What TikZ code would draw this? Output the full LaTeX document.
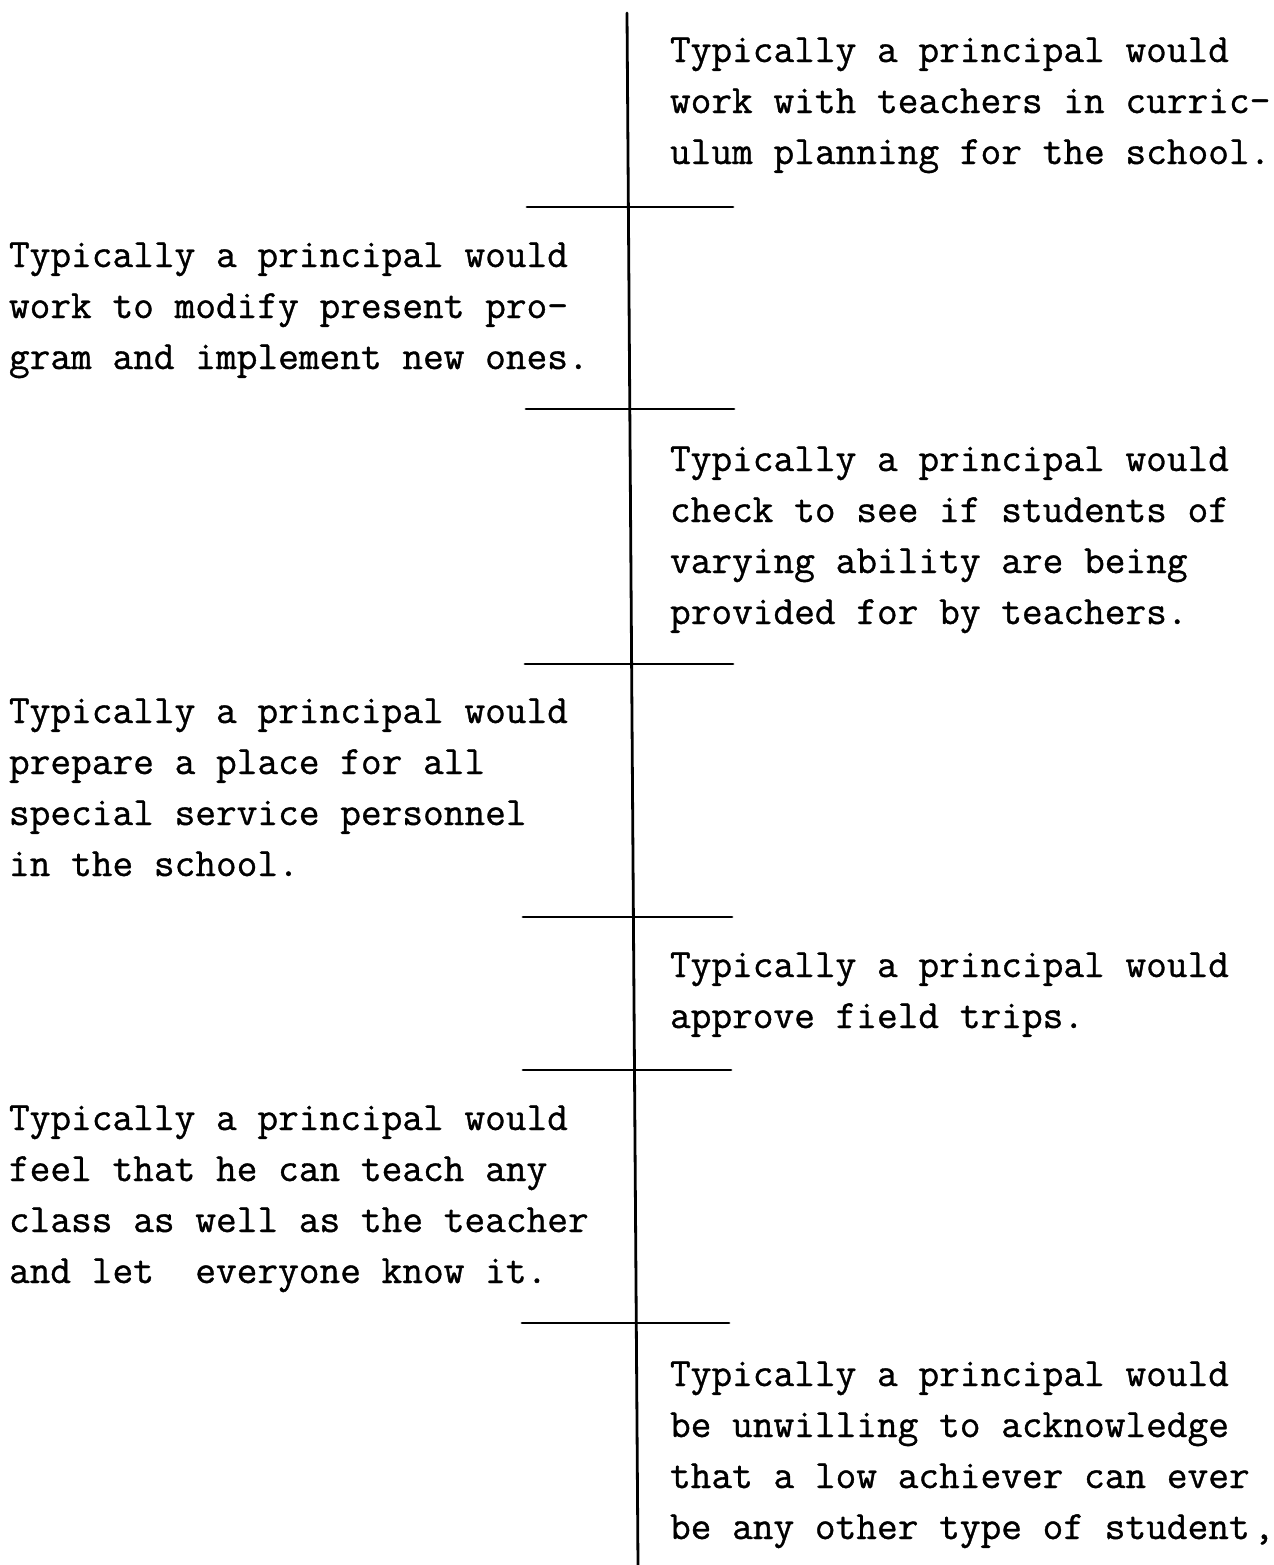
\documentclass[tikz,border=0pt]{standalone}
\usepackage{fontspec}
% a typewriter face with slightly heavier strokes
\newfontfamily\typewriter{Latin Modern Mono}[FakeBold=0.9]
% stacked lines of a typed entry, baseline on the first line
\newcommand\typedlines[1]{\begin{tabular}[t]{@{}l@{}}#1\end{tabular}}
\begin{document}
\begin{tikzpicture}[x=0.5pt,y=-0.5pt,
  rule/.style={line width=1.4pt, line cap=round},
  entry/.style={anchor=base west, inner sep=0pt, outer sep=0pt,
    font=\typewriter\fontsize{20.1}{25.5}\selectfont}]
\useasboundingbox (0,0) rectangle (1274,1565);

% central scale line
\coordinate (top) at (627,13);
\coordinate (bot) at (638,1565);
\draw[rule] (top) -- (bot);

% division marks across the scale
\foreach \n/\y/\a/\b in {1/207/527/733, 2/409/526/734, 3/664/525/733,
                         4/917/523/732, 5/1070/523/731, 6/1323/522/729} {
  \coordinate (m\n l) at (\a,\y);
  \coordinate (m\n r) at (\b,\y);
  \draw[rule] (m\n l) -- (m\n r);
}

% statements, alternating right and left of the scale
\node[entry] (r1) at (670,62) {\typedlines{Typically a principal would\\
  work with teachers in curric-\\ ulum planning for the school.}};
\node[entry] (l1) at (9,267) {\typedlines{Typically a principal would\\
  work to modify present pro-\\ gram and implement new ones.}};
\node[entry] (r2) at (670,471) {\typedlines{Typically a principal would\\
  check to see if students of\\ varying ability are being\\
  provided for by teachers.}};
\node[entry] (l2) at (9,723) {\typedlines{Typically a principal would\\
  prepare a place for all\\ special service personnel\\ in the school.}};
\node[entry] (r3) at (670,977) {\typedlines{Typically a principal would\\
  approve field trips.}};
\node[entry] (l3) at (9,1130) {\typedlines{Typically a principal would\\
  feel that he can teach any\\ class as well as the teacher\\
  and let\ \ everyone know it.}};
\node[entry] (r4) at (670,1386) {\typedlines{Typically a principal would\\
  be unwilling to acknowledge\\ that a low achiever can ever\\
  be any other type of student\kern2pt,}};
\end{tikzpicture}
\end{document}
